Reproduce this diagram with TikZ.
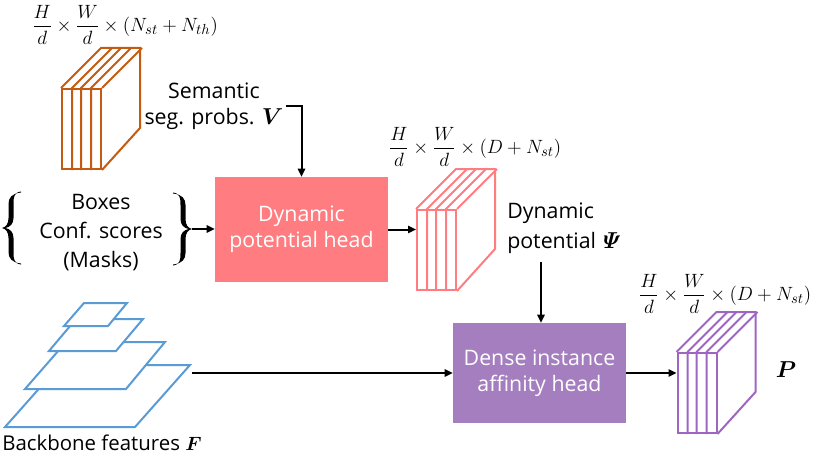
\documentclass[tikz,border=0pt]{standalone}
\usepackage[no-math]{fontspec}
\setmainfont{Open Sans}
\usepackage{amsmath}
\usepackage{bm}
\usetikzlibrary{arrows.meta,calc}
\definecolor{orangeC}{HTML}{C55A11}
\definecolor{redC}{HTML}{FF7C80}
\definecolor{purpleC}{HTML}{9E66C2}
\definecolor{purpleF}{HTML}{A47EBF}
\definecolor{blueC}{HTML}{5B9BD5}
\newcommand\mycuboid[3]{%
  \node[draw=#3, line width=1.5pt, minimum width=29.25pt, minimum height=60pt, inner sep=0pt] (#1) at #2 {};
  \draw[#3, line width=1.5pt, line join=miter] (#1.north west) -- ++(40,-40) -- ++(39,0) -- ++(0,80) -- (#1.south east);
  \draw[#3, line width=1.5pt] (#1.north east) -- ++(40,-40);
  \foreach \d in {11,20,30} {
    \draw[#3, line width=1.5pt] ($(#1.south west)+(\d,0)$) -- ($(#1.north west)+(\d,0)$) -- ++(40,-40);
  }
}
\begin{document}
\begin{tikzpicture}[x=0.75pt,y=-0.75pt,
  txt/.style={font=\fontsize{16pt}{19.5pt}\selectfont, inner sep=2pt},
  mth/.style={font=\fontsize{15pt}{17pt}\selectfont, inner sep=2pt},
  arr/.style={line width=1.5pt, -{Triangle[length=6pt,width=5.5pt]}},
  headbox/.style={txt, text=white, align=center, inner sep=0pt},
  layer/.style={draw=blueC, fill=white, line width=1.5pt, line join=miter},
  bracepic/.pic={
    \fill[black] (19,-36.5) .. controls (12,-35.5) and (11.5,-31) .. (11.5,-24) -- (11.5,-10)
      .. controls (11.5,-4) and (8,-1) .. (3.5,0)
      .. controls (8,1) and (11.5,4) .. (11.5,10) -- (11.5,24)
      .. controls (11.5,31) and (12,35.5) .. (19,36.5)
      -- (19,35.5) .. controls (9.5,34.5) and (6.5,30) .. (6.5,24) -- (6.5,10)
      .. controls (6.5,4) and (4,1) .. (0,0)
      .. controls (4,-1) and (6.5,-4) .. (6.5,-10) -- (6.5,-24)
      .. controls (6.5,-30) and (9.5,-34.5) .. (19,-35.5) -- cycle;
  }]
\useasboundingbox (0,0) rectangle (814,460);

% orange cuboid and formula
\mycuboid{oc}{(81.5,129)}{orangeC}
\node[mth] (of) at (125,25) {$\dfrac{H}{d}\times\dfrac{W}{d}\times(N_{st}+N_{th})$};

% semantic seg probs
\node[txt, align=center] (sem) at (214,106) {Semantic\\seg. probs. $\bm{V}$};

% dynamic potential head
\node[headbox, fill=redC, minimum width=129.75pt, minimum height=78.75pt] (dph) at (301.5,229.5) {Dynamic\\potential head};

% braces and inputs
\pic at (2,228) {bracepic};
\pic[xscale=-1] at (192,229) {bracepic};
\coordinate (rbtip) at (192,229);
\node[txt, align=center, font=\fontsize{16pt}{21.75pt}\selectfont] (inp) at (101,233) {Boxes\\Conf. scores\\(Masks)};

% red cuboid and formula
\mycuboid{rc}{(436.5,250)}{redC}
\node[mth] (rf) at (475,147) {$\dfrac{H}{d}\times\dfrac{W}{d}\times(D+N_{st})$};
\node[txt, align=left, font=\fontsize{16pt}{22.5pt}\selectfont, anchor=west, inner sep=0pt] (dyn) at (507,228) {Dynamic\\potential\hspace{-0.12em} {\fontsize{19pt}{19pt}\selectfont$\bm{\mathit{\Psi}}$}};

% dense instance affinity head
\node[headbox, fill=purpleF, minimum width=129.75pt, minimum height=75pt] (dai) at (539.5,373) {Dense instance\\affinity head};

% purple cuboid and formula
\mycuboid{pc}{(697,393)}{purpleC}
\node[mth] (pf) at (725,294) {$\dfrac{H}{d}\times\dfrac{W}{d}\times(D+N_{st})$};
\node[txt, font=\fontsize{18pt}{18pt}\selectfont] (pl) at (786,370) {$\bm{P}$};

% backbone pyramid
\draw[layer] (5,427) -- (135,427) -- (190,365) -- (60,365) -- cycle;
\draw[layer] (25,389) -- (126,389) -- (165,342) -- (66,342) -- cycle;
\draw[layer] (49,351) -- (116,351) -- (143,319) -- (76,319) -- cycle;
\draw[layer] (64,326) -- (108,326) -- (127,303) -- (84,303) -- cycle;
\node[txt, font=\fontsize{15.3pt}{19pt}\selectfont, inner sep=0pt] (bbl) at (102,443) {Backbone features $\bm{F}$};
\coordinate (bbout) at (192,373);
\coordinate (psi) at (541,262);

% connectors
\draw[arr] (sem.east) -| (dph.north);
\draw[arr] (rbtip) -- (rbtip -| dph.west);
\draw[arr] (dph.east) -- (dph.east -| rc.west);
\draw[arr] (psi) -- (psi |- dai.north);
\draw[arr] (bbout) -- (bbout -| dai.west);
\draw[arr] (dai.east) -- (dai.east -| pc.west);
\end{tikzpicture}
\end{document}
